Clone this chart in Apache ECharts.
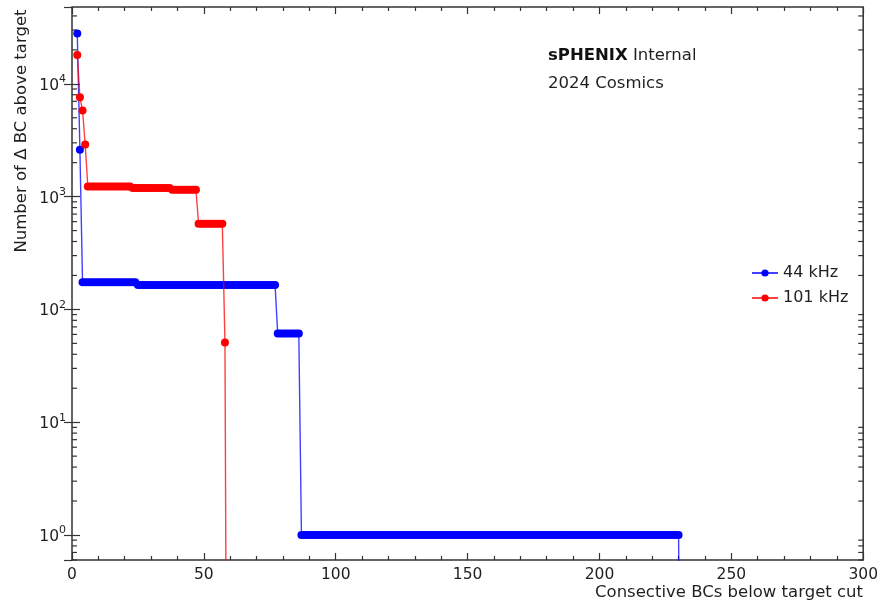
<!DOCTYPE html>
<html>
<head>
<meta charset="utf-8">
<script src="https://cdn.jsdelivr.net/npm/echarts@6/dist/echarts.min.js"></script>
<style>
  html, body { margin: 0; padding: 0; background: #fff; }
  #chart { width: 881px; height: 605px; }
</style>
</head>
<body>
<div id="chart"></div>
<script>
// runs of equal counts: [first BC, last BC, count]
var blueRuns = [[2, 2, 28000], [3, 3, 2600], [4, 24, 174], [25, 77, 165], [78, 86, 61], [87, 230, 1], [231, 231, 0]];
var redRuns = [[2, 2, 18000], [3, 3, 7600], [4, 4, 5800], [5, 5, 2900], [6, 22, 1230], [23, 37, 1190],
  [38, 47, 1150], [48, 57, 575], [58, 58, 51], [59, 59, 0]];
var seriesNames = ['44 kHz', '101 kHz'];
var seriesColors = ['#0000ff', '#ff0000'];

// log axis: decades and minor-tick mantissas
var yMin = 0.6, yMax = 48000;
var decades = [0.1, 1, 10, 100, 1000, 10000];
var minorMantissas = [2, 3, 4, 5, 6, 7, 8, 9];

var TXT = '#1f1f1f';
var FONT = 'DejaVu Sans';
var NAME_FONT = '16.5px "DejaVu Sans"';

// expand runs into points; 0 has no place on a log axis, so it is pushed far below (like matplotlib's clip)
function expand(runs) {
  var pts = [];
  runs.forEach(function (r) {
    for (var x = r[0]; x <= r[1]; x++) pts.push([x, r[2] > 0 ? r[2] : 1e-4]);
  });
  return pts;
}

var minorVals = [];
decades.forEach(function (d) {
  minorMantissas.forEach(function (m) {
    var v = m * d;
    if (v > yMin && v < yMax) minorVals.push([0, v]);
  });
});

function lineSeries(i, runs) {
  return {
    name: seriesNames[i], type: 'line', data: expand(runs),
    symbol: 'circle', symbolSize: 8, showAllSymbol: true, clip: true,
    itemStyle: { color: seriesColors[i] },
    lineStyle: { color: seriesColors[i], width: 1.4, opacity: 0.75 },
    emphasis: { disabled: true },
    z: 3 + i
  };
}

var xAxisBase = {
  type: 'value', min: 0, max: 300, interval: 50,
  splitLine: { show: false },
  axisLine: { show: false },
  axisTick: { inside: true, length: 7, lineStyle: { color: '#333', width: 1.2 } },
  minorTick: { show: true, splitNumber: 5, length: 4, lineStyle: { color: '#333', width: 1.2 } }
};
var yAxisBase = {
  type: 'log', min: yMin, max: yMax, logBase: 10,
  splitLine: { show: false },
  axisLine: { show: false },
  axisTick: { inside: true, length: 8, lineStyle: { color: '#333', width: 1.2 } }
};

var chart = echarts.init(document.getElementById('chart'), null, { renderer: 'canvas' });
chart.setOption({
  backgroundColor: '#fff',
  animation: false,
  textStyle: { fontFamily: FONT },
  grid: { left: 72, right: 17, top: 7, bottom: 45, show: true, borderColor: '#333', borderWidth: 1.5, backgroundColor: 'transparent' },
  xAxis: [
    Object.assign({}, xAxisBase, {
      position: 'bottom',
      axisLabel: { color: TXT, fontSize: 15.5, margin: 7, fontFamily: FONT }
    }),
    Object.assign({}, xAxisBase, { position: 'top', axisLabel: { show: false } })
  ],
  yAxis: [
    Object.assign({}, yAxisBase, {
      position: 'left',
      axisLabel: {
        margin: 6, color: TXT, fontFamily: FONT,
        showMinLabel: false, showMaxLabel: false,
        formatter: function (v) {
          var p = Math.log10(v);
          if (Math.abs(p - Math.round(p)) > 1e-6) return '';
          return '{b|10}{s|' + Math.round(p) + '}';
        },
        rich: {
          b: { fontSize: 15.5, color: TXT, fontFamily: FONT, lineHeight: 20, verticalAlign: 'bottom' },
          s: { fontSize: 11, color: TXT, fontFamily: FONT, verticalAlign: 'top', lineHeight: 20 }
        }
      }
    }),
    Object.assign({}, yAxisBase, { position: 'right', axisLabel: { show: false } })
  ],
  legend: {
    data: seriesNames, orient: 'vertical', left: 746, top: 260,
    itemWidth: 26, itemHeight: 9, itemGap: 9,
    textStyle: { color: TXT, fontSize: 16, fontFamily: FONT }
  },
  graphic: [
    { type: 'text', x: 548, y: 56, style: { text: '{b|sPHENIX} Internal', fill: TXT, font: NAME_FONT, verticalAlign: 'middle',
        rich: { b: { fontWeight: 'bold', fontSize: 16.5, fontFamily: FONT, fill: '#111' } } } },
    { type: 'text', x: 548, y: 84, style: { text: '2024 Cosmics', fill: TXT, font: NAME_FONT, verticalAlign: 'middle' } },
    { type: 'text', x: 22, y: 131, rotation: Math.PI / 2,
      style: { text: 'Number of \u0394 BC above target', fill: TXT, font: NAME_FONT, align: 'center', verticalAlign: 'middle' } },
    { type: 'text', x: 863, y: 593,
      style: { text: 'Consective BCs below target cut', fill: TXT, font: NAME_FONT, align: 'right', verticalAlign: 'middle' } }
  ],
  series: [
    lineSeries(0, blueRuns),
    lineSeries(1, redRuns),
    {
      // minor log ticks on left and right frame
      type: 'custom', silent: true, data: minorVals, encode: { x: 0, y: 1 }, z: 1,
      renderItem: function (params, api) {
        var y = api.coord([0, api.value(1)])[1];
        var cs = params.coordSys;
        var st = { stroke: '#333', lineWidth: 1.2 };
        return {
          type: 'group', children: [
            { type: 'line', shape: { x1: cs.x, y1: y, x2: cs.x + 5, y2: y }, style: st },
            { type: 'line', shape: { x1: cs.x + cs.width, y1: y, x2: cs.x + cs.width - 5, y2: y }, style: st }
          ]
        };
      }
    }
  ]
});
</script>
</body>
</html>
